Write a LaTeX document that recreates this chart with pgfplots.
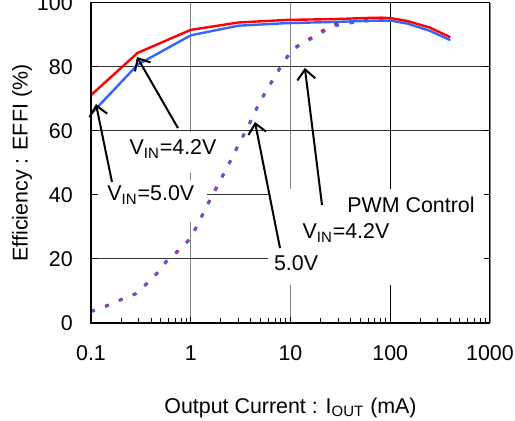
\documentclass[border=0pt]{standalone}
\usepackage{pgfplots}
\pgfplotsset{compat=1.18}
\usepackage{fontspec}
\setmainfont{Liberation Sans}
\usetikzlibrary{arrows.meta}
\definecolor{cred}{RGB}{255,0,0}
\definecolor{cblue}{RGB}{51,102,255}
\begin{document}
\fontsize{10.7}{12.8}\selectfont
\begin{tikzpicture}[font=\fontsize{10.7}{12.8}\selectfont]
\useasboundingbox (-45.5pt,-49pt) rectangle (212pt,161.5pt);
\begin{axis}[
  at={(0,0)}, anchor=south west,
  scale only axis, width=199.5pt, height=160pt,
  xmode=log, log basis x=10,
  xmin=0.1, xmax=1000, ymin=0, ymax=100,
  xtick={0.1,1,10,100,1000}, xticklabels={0.1,1,10,100,1000},
  minor xtick={0.2,0.3,0.4,0.5,0.6,0.7,0.8,0.9,2,3,4,5,6,7,8,9,20,30,40,50,60,70,80,90,200,300,400,500,600,700,800,900},
  ytick={0,20,40,60,80,100},
  grid=major,
  x grid style={gray, line width=0.6pt},
  y grid style={black!80, line width=0.5pt},
  extra x ticks={100}, extra x tick labels={},
  extra x tick style={x grid style={black, line width=0.6pt}},
  axis line style={black, line width=0.5pt},
  tick align=inside,
  xtick pos=left, ytick pos=both,
  major tick length=3pt, minor tick length=2.5pt,
  tick style={black, line width=0.5pt},
  /pgf/number format/assume math mode=true,
  every tick label/.append style={font=\fontsize{10.7}{12.8}\selectfont},
  xticklabel style={yshift=-7.5pt},
  yticklabel style={xshift=-5.4pt},
  xlabel={Output Current : I\textsubscript{OUT} (mA)},
  ylabel={Efficiency : EFFI (\%)},
  label style={font=\fontsize{10.7}{12.8}\selectfont},
  xlabel style={at={(rel axis cs:0.5,-0.2656)}, anchor=center},
  ylabel style={at={(rel axis cs:-0.173,0.5)}, anchor=center},
  clip=false,
]
% white label backgrounds (interrupt grid lines)
\fill[white] (rel axis cs:0.4436,0.119) rectangle (rel axis cs:0.985,0.42);
\fill[white] (rel axis cs:0.0927,0.469) rectangle (rel axis cs:0.3233,0.596);
\fill[white] (rel axis cs:0.0175,0.3156) rectangle (rel axis cs:0.2907,0.447);

% PWM control (dashed)
\addplot[cred, line width=1.5pt, dash pattern=on 2pt off 5.5pt] coordinates {
(0.1,3.6)(0.147,5.5)(0.203,7.4)(0.283,9.2)(0.365,12.4)(0.472,15.9)(0.575,19.4)(0.768,22.9)(0.99,26.4)(1.16,30.5)(1.6,39.2)(1.89,43.4)(2.63,52)(3.07,56.3)(3.64,60.5)(4.24,64.9)(4.94,69.2)(5.91,73.3)(7.11,77.5)(8.55,81.6)(10.5,85.6)(14.3,88.1)(19.3,90.6)(26.2,93.1)(38,94.0)(53.3,94.6)(73,95.3)(100,95.3)};
\addplot[cblue, line width=1.2pt, dash pattern=on 2pt off 5.5pt] coordinates {
(0.1,3.5)(0.147,5.4)(0.203,7.3)(0.283,9.1)(0.365,12.3)(0.472,15.8)(0.575,19.3)(0.768,22.8)(0.99,26.3)(1.16,30.4)(1.6,39.1)(1.89,43.3)(2.63,51.9)(3.07,56.2)(3.64,60.4)(4.24,64.8)(4.94,69.1)(5.91,73.2)(7.11,77.4)(8.55,81.5)(10.5,85.4)(14.3,87.8)(19.3,90.2)(26.2,92.6)(38,93.6)(53.3,94.2)(73,94.6)(100,94.6)};

% VIN = 5.0V solid
\addplot[cblue, line width=1.2pt] coordinates {
(0.1,65.3)(0.293,80.7)(1,89.9)(3,92.9)(9,93.7)(30,94.1)(70,94.5)(100,94.5)(147,93.6)(250,91.3)(400,88.4)};
% VIN = 4.2V solid
\addplot[cred, line width=1.2pt] coordinates {
(0.1,71.2)(0.293,84.4)(1,91.6)(3,93.9)(9,94.7)(30,95.0)(70,95.4)(100,95.3)(147,94.4)(250,92.3)(400,89.3)};

% thick left and bottom axis lines
\draw[black, line width=1.4pt] (rel axis cs:0,1) -- (rel axis cs:0,0) -- (rel axis cs:1,0);

% arrows
\tikzset{myarrow/.style={black, line width=1pt, -{Straight Barb[length=5pt,width=9pt,line width=1pt]}}}
\draw[myarrow] (rel axis cs:0.218,0.609) -- (rel axis cs:0.1153,0.8313);
\draw[myarrow] (rel axis cs:0.0526,0.4406) -- (rel axis cs:0.0125,0.684);
\draw[myarrow] (rel axis cs:0.4737,0.234) -- (rel axis cs:0.411,0.628);
\draw[myarrow] (rel axis cs:0.579,0.369) -- (rel axis cs:0.536,0.797);

% labels
\node at (rel axis cs:0.2055,0.544) {V\textsubscript{IN}=4.2V};
\node at (rel axis cs:0.150,0.400) {V\textsubscript{IN}=5.0V};
\node at (rel axis cs:0.514,0.1875) {5.0V};
\node at (rel axis cs:0.802,0.369) {PWM Control};
\node at (rel axis cs:0.639,0.281) {V\textsubscript{IN}=4.2V};
\end{axis}
\end{tikzpicture}
\end{document}
